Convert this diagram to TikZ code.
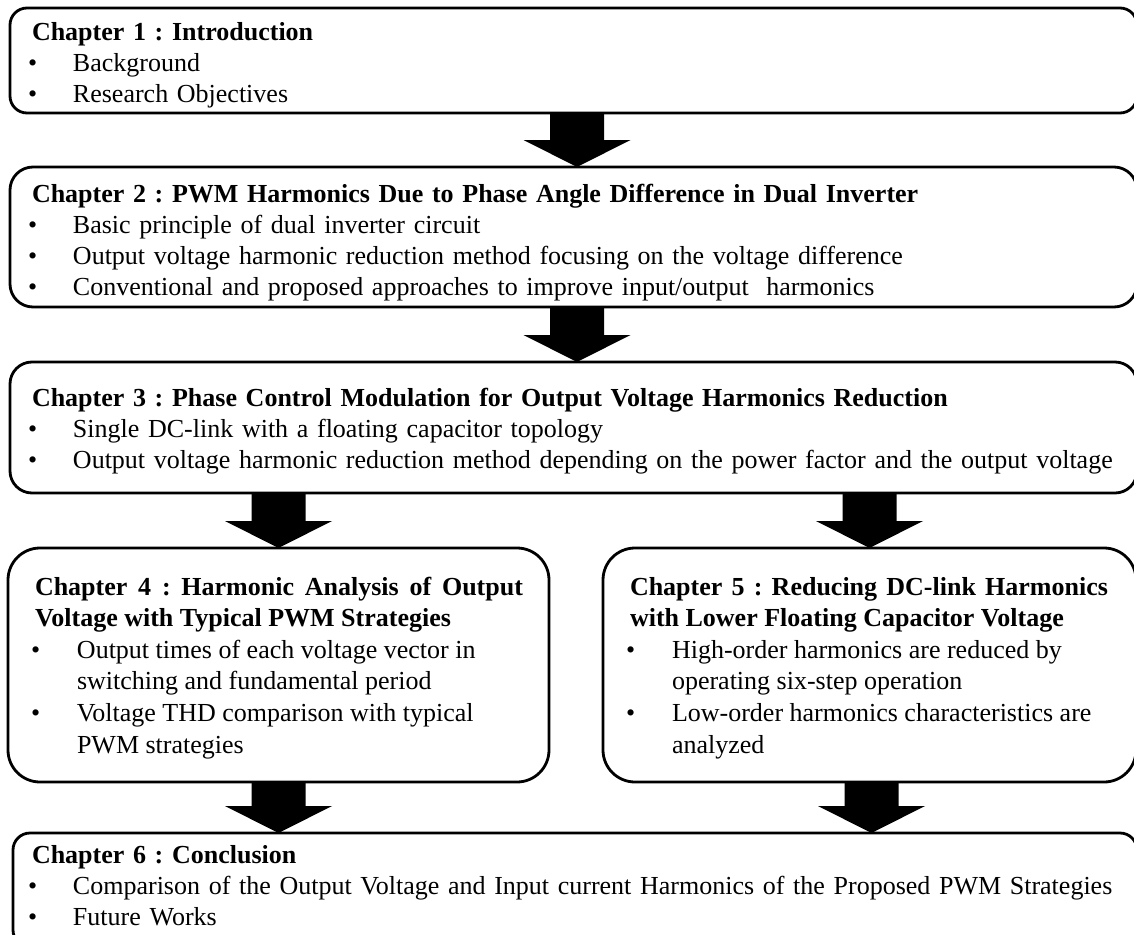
\documentclass[tikz,border=0pt]{standalone}
\usepackage{fontspec}
\setmainfont{Liberation Serif}
\usetikzlibrary{calc}
\setlength\parindent{0pt}
\setlength\parskip{0pt}
\frenchspacing
\hyphenpenalty=10000

% bullet item with hanging indent
\newlength\itemind
\setlength\itemind{41pt}
\newcommand\itm[1]{\par\hangindent=\itemind\hangafter=1\noindent\makebox[\itemind][l]{\hspace*{-4pt}\textbullet}#1\par}
% thick block arrow from a top point #1 down to a tip point #2
\newcommand\blockarrow[2]{%
  \fill[arrowfill] ($(#1)+(-27,-1)$) -- ($(#1)+(27,-1)$) -- ($(#2)+(27,-27)$) --
    ($(#2)+(53.5,-27)$) -- (#2) -- ($(#2)+(-53.5,-27)$) -- ($(#2)+(-27,-27)$) -- cycle;}

\begin{document}
\begin{tikzpicture}[x=1pt,y=-1pt,
  chapbox/.style={draw=black, line width=2.8pt, anchor=north west, inner sep=0pt, outer sep=0pt},
  chaptext/.style={anchor=base west, inner sep=0pt, outer sep=0pt, text width=#1,
    align=left, font=\fontsize{26}{31}\selectfont},
  chapjust/.style={chaptext=#1, align=justify,
    font=\fontsize{26}{31.6}\selectfont\setlength\itemind{42pt}},
  arrowfill/.style={fill=black}]

\useasboundingbox (0,0) rectangle (1134,934);
\clip (0,0) rectangle (1134,934);

% chapter boxes
\node[chapbox, minimum width=1127, minimum height=105, rounded corners=17] (b1) at (10,8) {};
\node[chapbox, minimum width=1127, minimum height=140, rounded corners=23] (b2) at (10,167) {};
\node[chapbox, minimum width=1127, minimum height=131, rounded corners=22] (b3) at (10,362) {};
\node[chapbox, minimum width=541, minimum height=234, rounded corners=32] (b4) at (8,548) {};
\node[chapbox, minimum width=533, minimum height=234, rounded corners=32] (b5) at (603,548) {};
\node[chapbox, minimum width=1124, minimum height=114, rounded corners=17] (b6) at (13,833) {};

% chapter contents
\node[chaptext=1095] (t1) at ($(b1.north west)+(22,33)$)
  {\textbf{Chapter 1 : Introduction}\itm{Background}\itm{Research Objectives}};
\node[chaptext=1095] (t2) at ($(b2.north west)+(22,35)$)
  {\textbf{Chapter 2 : PWM Harmonics Due to Phase Angle Difference in Dual Inverter}%
   \itm{Basic principle of dual inverter circuit}%
   \itm{Output voltage harmonic reduction method focusing on the voltage difference}%
   \itm{Conventional and proposed approaches to improve input/output\ \ harmonics}};
\node[chaptext=1100] (t3) at ($(b3.north west)+(22,44)$)
  {\textbf{Chapter 3 : Phase Control Modulation for Output Voltage Harmonics Reduction}%
   \itm{Single DC-link with a floating capacitor topology}%
   \itm{Output voltage harmonic reduction method depending on the power factor and the output voltage}};
\node[chapjust=488] (t4) at ($(b4.north west)+(27,47)$)
  {\textbf{Chapter 4 : Harmonic Analysis of Output\linebreak Voltage with Typical PWM Strategies}%
   \itm{Output times of each voltage vector in\\switching and fundamental period}%
   \itm{Voltage THD comparison with typical\\PWM strategies}};
\node[chapjust=478] (t5) at ($(b5.north west)+(27,47)$)
  {\textbf{Chapter 5 : Reducing DC-link Harmonics\linebreak with Lower Floating Capacitor Voltage}%
   \itm{High-order harmonics are reduced by\\operating six-step operation}%
   \itm{Low-order harmonics characteristics are\\analyzed}};
\node[chaptext=1095] (t6) at ($(b6.north west)+(19,30)$)
  {\textbf{Chapter 6 : Conclusion}%
   \itm{Comparison of the Output Voltage and Input current Harmonics of the Proposed PWM Strategies}%
   \itm{Future Works}};

% connecting block arrows
\coordinate (a1t) at ($(b1.south)+(3.5,0)$);
\coordinate (a1b) at ($(b2.north)+(3.5,0)$);
\coordinate (a2t) at ($(b2.south)+(3.5,0)$);
\coordinate (a2b) at ($(b3.north)+(3.5,0)$);
\coordinate (a3t) at (b3.south -| b4.north);
\coordinate (a3b) at (b4.north);
\coordinate (a4t) at (b3.south -| b5.north);
\coordinate (a4b) at (b5.north);
\coordinate (a5t) at (b4.south);
\coordinate (a5b) at (b6.north -| b4.south);
\coordinate (a6t) at ($(b5.south)+(2,0)$);
\coordinate (a6b) at ($(b6.north -| b5.south)+(2,0)$);
\blockarrow{a1t}{a1b}
\blockarrow{a2t}{a2b}
\blockarrow{a3t}{a3b}
\blockarrow{a4t}{a4b}
\blockarrow{a5t}{a5b}
\blockarrow{a6t}{a6b}
\end{tikzpicture}
\end{document}
